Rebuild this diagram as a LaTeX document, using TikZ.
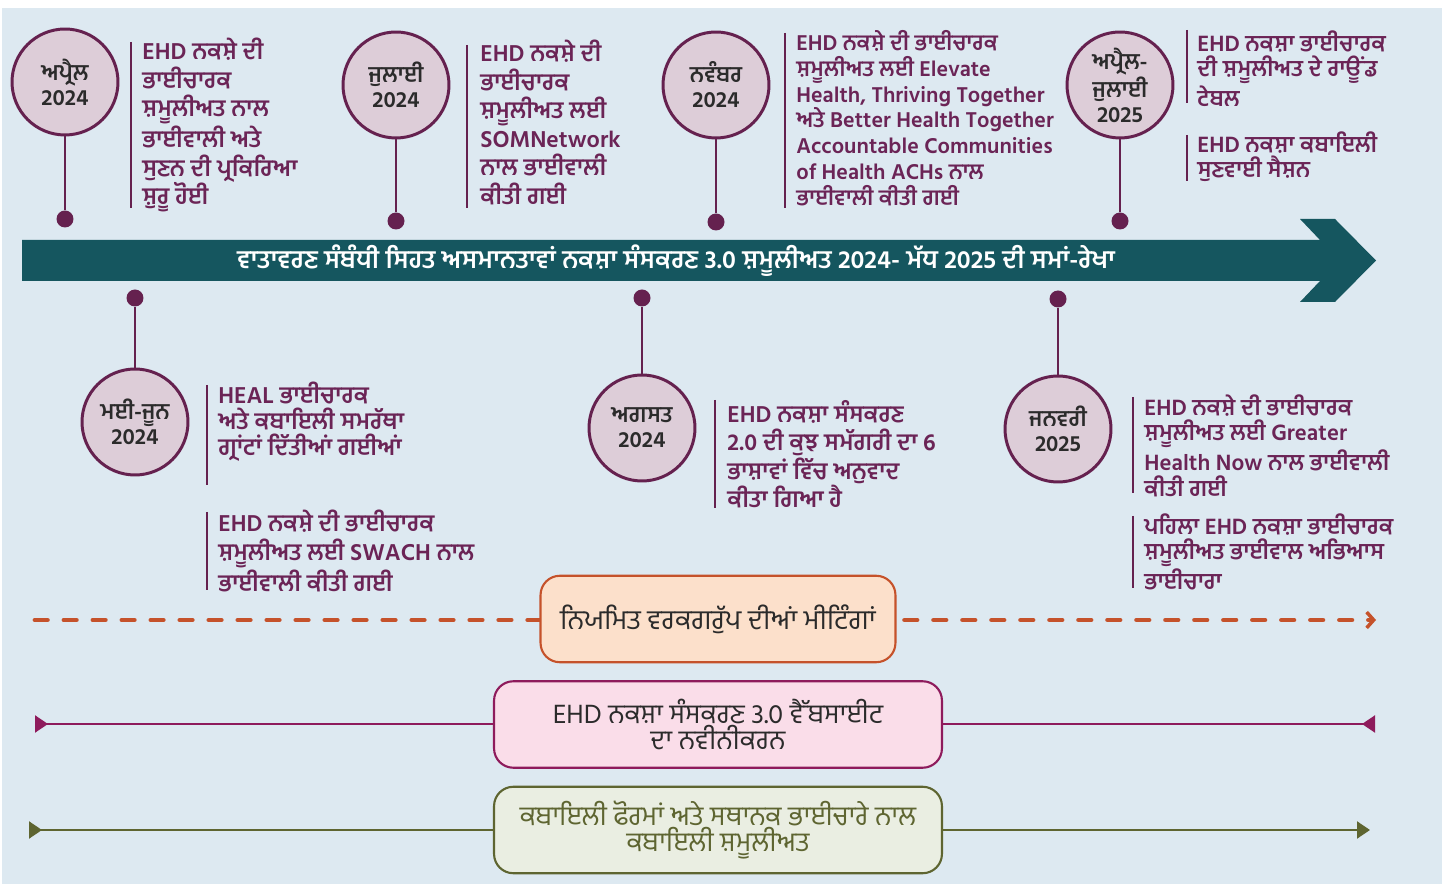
\documentclass[tikz,border=0pt]{standalone}
\usepackage{fontspec}
\setmainfont{Hind Jalandhar}[Script=Gurmukhi]
\usetikzlibrary{arrows.meta}
\definecolor{bgblue}{HTML}{DDE9F1}
\definecolor{petrol}{HTML}{15565F}
\definecolor{plum}{HTML}{65214F}
\definecolor{plumtext}{HTML}{6B2456}
\definecolor{mauve}{HTML}{DDCDD8}
\definecolor{ink}{HTML}{2B2B2B}
\definecolor{rust}{HTML}{C5522B}
\definecolor{peach}{HTML}{FCE0CB}
\definecolor{berry}{HTML}{8E1B5C}
\definecolor{blush}{HTML}{FADDE9}
\definecolor{moss}{HTML}{5E6531}
\definecolor{sage}{HTML}{EAEEE2}
\tikzstyle{month}=[circle, draw=plum, line width=1.7pt, fill=mauve, minimum size=2.12cm, inner sep=0pt, align=center, text=ink, font=\bfseries\fontsize{12.8}{14.2}\selectfont]
\tikzstyle{pin}=[circle, fill=plum, minimum size=0.34cm, inner sep=0pt]
\tikzstyle{stem}=[draw=plum, line width=1.4pt]
\tikzstyle{bar}=[draw=plum, line width=0.8pt]
\tikzstyle{note}=[anchor=north west, align=left, inner sep=0pt, text=plumtext, font=\bfseries\fontsize{13.4}{16.2}\selectfont]
\tikzstyle{notesmall}=[anchor=north west, align=left, inner sep=0pt, text=plumtext, font=\bfseries\fontsize{12.9}{14.6}\selectfont]
\tikzstyle{notelatin}=[anchor=north west, align=left, inner sep=0pt, text=plumtext, font=\bfseries\fontsize{12.5}{14.7}\selectfont]
\tikzstyle{notemid}=[anchor=north west, align=left, inner sep=0pt, text=plumtext, font=\bfseries\fontsize{13.4}{14.8}\selectfont]
\tikzstyle{lane}=[rounded corners=11pt, line width=1.2pt, align=center, minimum height=1.73cm]
\tikzstyle{meetline}=[draw=rust, line width=2.8pt, line cap=round, dash pattern=on 7pt off 9.5pt, -{Straight Barb[length=4pt, width=9pt, line width=2pt]}]
\tikzstyle{webline}=[draw=berry, line width=1.1pt, {Triangle[reversed, length=7.4pt, width=9.7pt]}-{Triangle[reversed, length=7.4pt, width=9.7pt]}]
\tikzstyle{tribeline}=[draw=moss, line width=1.1pt, {Triangle[reversed, length=7.4pt, width=9.7pt]}-{Triangle[length=7.4pt, width=9.7pt]}]

\begin{document}
\begin{tikzpicture}[x=0.02cm, y=-0.02cm]
	\useasboundingbox (0,0) rectangle (1451,884);
	\fill[bgblue] (2,8) rectangle (1442,884);
	\begin{scope}
		\fill[petrol] (22,240) -- (1320,240) -- (1300,219) -- (1335,219) -- (1376,260.5) -- (1335,302) -- (1300,302) -- (1320,281) -- (22,281) -- cycle;
		\node (title) at (676,261) [text=white, font=\bfseries\fontsize{14.4}{16}\selectfont] {ਵਾਤਾਵਰਣ ਸੰਬੰਧੀ ਸਿਹਤ ਅਸਮਾਨਤਾਵਾਂ ਨਕਸ਼ਾ ਸੰਸਕਰਣ 3.0 ਸ਼ਮੂਲੀਅਤ 2024- ਮੱਧ 2025 ਦੀ ਸਮਾਂ-ਰੇਖਾ};
	\end{scope}
	\begin{scope}
		\node (c1) at (65,82)[month] {ਅਪ੍ਰੈਲ\\2024};
		\node (c2) at (396,85)[month] {ਜੁਲਾਈ\\2024};
		\node (c3) at (716,85)[month] {ਨਵੰਬਰ\\2024};
		\node (c4) at (1120,85)[month] {ਅਪ੍ਰੈਲ-\\ਜੁਲਾਈ\\2025};
		\node (c5) at (135,422)[month] {ਮਈ-ਜੂਨ\\2024};
		\node (c6) at (642,428)[month] {ਅਗਸਤ\\2024};
		\node (c7) at (1058,429)[month] {ਜਨਵਰੀ\\2025};
		\node (d1) at (65,219)[pin] {};
		\node (d2) at (396,221)[pin] {};
		\node (d3) at (716,222)[pin] {};
		\node (d4) at (1120,221)[pin] {};
		\node (d5) at (135,298)[pin] {};
		\node (d6) at (642,298)[pin] {};
		\node (d7) at (1058,299)[pin] {};
	\end{scope}
	\begin{scope}
		\path (c1) edge[stem] (d1);
		\path (c2) edge[stem] (d2);
		\path (c3) edge[stem] (d3);
		\path (c4) edge[stem] (d4);
		\path (c5) edge[stem] (d5);
		\path (c6) edge[stem] (d6);
		\path (c7) edge[stem] (d7);
	\end{scope}
	\begin{scope}
		\node (n1) at (142,38)[note] {EHD ਨਕਸ਼ੇ ਦੀ\\ਭਾਈਚਾਰਕ\\ਸ਼ਮੂਲੀਅਤ ਨਾਲ\\ਭਾਈਵਾਲੀ ਅਤੇ\\ਸੁਣਨ ਦੀ ਪ੍ਰਕਿਰਿਆ\\ਸ਼ੁਰੂ ਹੋਈ};
		\node (n2) at (480,40)[note] {EHD ਨਕਸ਼ੇ ਦੀ\\ਭਾਈਚਾਰਕ\\ਸ਼ਮੂਲੀਅਤ ਲਈ\\SOMNetwork\\ਨਾਲ ਭਾਈਵਾਲੀ\\ਕੀਤੀ ਗਈ};
		\node (n3) at (796,30)[notelatin] {EHD ਨਕਸ਼ੇ ਦੀ ਭਾਈਚਾਰਕ\\ਸ਼ਮੂਲੀਅਤ ਲਈ Elevate\\Health, Thriving Together\\ਅਤੇ Better Health Together\\Accountable Communities\\of Health ACHs ਨਾਲ\\ਭਾਈਵਾਲੀ ਕੀਤੀ ਗਈ};
		\node (n4) at (1197,30)[notesmall] {EHD ਨਕਸ਼ਾ ਭਾਈਚਾਰਕ\\ਦੀ ਸ਼ਮੂਲੀਅਤ ਦੇ ਰਾਊਂਡ\\ਟੇਬਲ};
		\node (n4b) at (1197,131)[notesmall] {EHD ਨਕਸ਼ਾ ਕਬਾਇਲੀ\\ਸੁਣਵਾਈ ਸੈਸ਼ਨ};
		\node (n5) at (218,382)[notemid] {HEAL ਭਾਈਚਾਰਕ\\ਅਤੇ ਕਬਾਇਲੀ ਸਮਰੱਥਾ\\ਗ੍ਰਾਂਟਾਂ ਦਿੱਤੀਆਂ ਗਈਆਂ};
		\node (n5b) at (218,510)[note] {EHD ਨਕਸ਼ੇ ਦੀ ਭਾਈਚਾਰਕ\\ਸ਼ਮੂਲੀਅਤ ਲਈ SWACH ਨਾਲ\\ਭਾਈਵਾਲੀ ਕੀਤੀ ਗਈ};
		\node (n6) at (727,400)[note] {EHD ਨਕਸ਼ਾ ਸੰਸਕਰਣ\\2.0 ਦੀ ਕੁਝ ਸਮੱਗਰੀ ਦਾ 6\\ਭਾਸ਼ਾਵਾਂ ਵਿੱਚ ਅਨੁਵਾਦ\\ਕੀਤਾ ਗਿਆ ਹੈ};
		\node (n7) at (1144,394)[notesmall] {EHD ਨਕਸ਼ੇ ਦੀ ਭਾਈਚਾਰਕ\\ਸ਼ਮੂਲੀਅਤ ਲਈ Greater\\Health Now ਨਾਲ ਭਾਈਵਾਲੀ\\ਕੀਤੀ ਗਈ};
		\node (n7b) at (1144,513)[notesmall] {ਪਹਿਲਾ EHD ਨਕਸ਼ਾ ਭਾਈਚਾਰਕ\\ਸ਼ਮੂਲੀਅਤ ਭਾਈਵਾਲ ਅਭਿਆਸ\\ਭਾਈਚਾਰਾ};
		\draw[bar] (131,42) -- (131,208);
		\draw[bar] (467,45) -- (467,208);
		\draw[bar] (785,33) -- (785,208);
		\draw[bar] (1187,30) -- (1187,103);
		\draw[bar] (1187,135) -- (1187,181);
		\draw[bar] (207,385) -- (207,485);
		\draw[bar] (207,512) -- (207,590);
		\draw[bar] (715,400) -- (715,508);
		\draw[bar] (1133,397) -- (1133,493);
		\draw[bar] (1133,516) -- (1133,588);
	\end{scope}
	\begin{scope}
		\coordinate (m0) at (35,620);
		\coordinate (m1) at (1376,620);
		\coordinate (w0) at (35,724);
		\coordinate (w1) at (1375,724);
		\coordinate (t0) at (29,830);
		\coordinate (t1) at (1370,830);
		\path[meetline] (m0) -- (m1);
		\path[webline] (w0) -- (w1);
		\path[tribeline] (t0) -- (t1);
		\node (meet) at (718,619)[lane, draw=rust, fill=peach, text=ink, minimum width=7.1cm, font=\fontsize{15.6}{17}\selectfont] {ਨਿਯਮਿਤ ਵਰਕਗਰੁੱਪ ਦੀਆਂ ਮੀਟਿੰਗਾਂ};
		\node (web) at (718,724.5)[lane, draw=berry, fill=blush, text=ink, minimum width=8.96cm, font=\fontsize{15.4}{15}\selectfont] {EHD ਨਕਸ਼ਾ ਸੰਸਕਰਣ 3.0 ਵੈੱਬਸਾਈਟ\\ਦਾ ਨਵੀਨੀਕਰਨ};
		\node (tribe) at (718,830)[lane, draw=moss, fill=sage, text=moss, minimum width=8.96cm, font=\fontsize{15.4}{15}\selectfont] {ਕਬਾਇਲੀ ਫੋਰਮਾਂ ਅਤੇ ਸਥਾਨਕ ਭਾਈਚਾਰੇ ਨਾਲ\\ਕਬਾਇਲੀ ਸ਼ਮੂਲੀਅਤ};
	\end{scope}
\end{tikzpicture}
\end{document}
